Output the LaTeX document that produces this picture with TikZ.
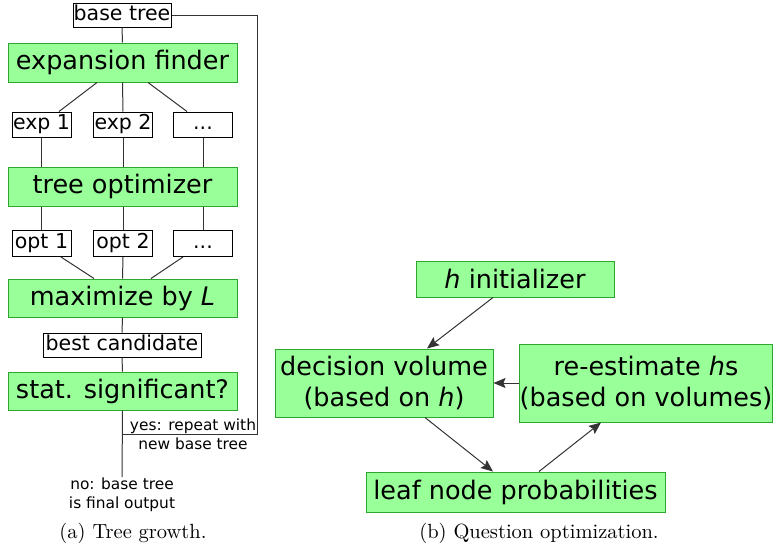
\documentclass[tikz,border=0pt]{standalone}
\usepackage{fontspec}
\usepackage{tikz}
\usetikzlibrary{calc}
\usetikzlibrary{arrows.meta}

\newfontfamily\diafont{DejaVu Sans}
\newfontfamily\capfont[Extension=.otf]{lmroman10-regular}

\definecolor{boxgreen}{HTML}{99FF99}
\definecolor{edgegreen}{HTML}{2EA52E}
\definecolor{linegray}{HTML}{333333}

\tikzset{
    stage/.style={draw=edgegreen, fill=boxgreen, line width=1pt, inner sep=0pt,
        align=center, font=\diafont\fontsize{25.5}{31.5}\selectfont},
    item/.style={draw=black, fill=white, line width=1pt, inner sep=0pt,
        text height=15pt, text depth=4.5pt,
        font=\diafont\fontsize{20.5}{24}\selectfont},
    remark/.style={inner sep=0pt, align=center, font=\diafont\fontsize{15.4}{18.5}\selectfont},
    subcap/.style={inner sep=0pt, font=\capfont\fontsize{20.5}{24}\selectfont},
    link/.style={draw=linegray, line width=1pt},
    flow/.style={link, -{Stealth[length=12pt, width=10pt, inset=2pt]}}
}

\begin{document}
\begin{tikzpicture}[x=1pt, y=-1pt]
    \useasboundingbox (0,0) rectangle (773,550);

    % Draw the tree growth column
    \node[item, minimum width=98pt, minimum height=24pt] (base) at (122,15) {base tree};
    \node[stage, minimum width=229pt, minimum height=39pt] (finder) at (122.5,62.5) {expansion finder};
    \node[stage, minimum width=229pt, minimum height=39pt] (optimizer) at (122.5,186.5) {tree optimizer};
    \node[stage, minimum width=229pt, minimum height=38pt] (maxL) at (122.5,298) {maximize by {\itshape L}};
    \node[item, minimum width=158pt, minimum height=24pt] (best) at (122,345) {best candidate};
    \node[stage, minimum width=229pt, minimum height=38pt] (signif) at (122.5,391) {stat. significant?};

    % Draw the expansions and the optimized trees
    \foreach \i/\x in {1/41.5, 2/123}
    {
        \node[item, minimum width=59pt, minimum height=25pt] (exp\i) at (\x,124.5) {exp \i};
        \node[item, minimum width=59pt, minimum height=26pt] (opt\i) at (\x,243.5) {opt \i};
    }
    \node[item, minimum width=59pt, minimum height=25pt] (exp3) at (203,124.5) {...};
    \node[item, minimum width=59pt, minimum height=26pt] (opt3) at (203,243.5) {...};

    % Connect the column
    \draw[link] (base.south) -- (finder.north);
    \draw[link] ($(finder.south)+(-25.5,0)$) -- ($(exp1.north)+(17.5,0)$);
    \draw[link] (finder.south) -- (exp2.north);
    \draw[link] ($(finder.south)+(25.5,0)$) -- ($(exp3.north)+(-16,0)$);
    \foreach \i in {1,2,3}
    {
        \draw[link] (exp\i.south) -- (exp\i.south |- optimizer.north);
        \draw[link] (optimizer.south -| opt\i.north) -- (opt\i.north);
    }
    \draw[link] ($(opt1.south)+(19.5,0)$) -- ($(maxL.north)+(-28.5,0)$);
    \draw[link] (opt2.south) -- (maxL.north);
    \draw[link] ($(opt3.south)+(-20,0)$) -- ($(maxL.north)+(28.5,0)$);
    \draw[link] (maxL.south) -- (best.north);
    \draw[link] (best.south) -- (signif.north);

    % Draw the two outcomes of the test
    \coordinate (no) at (122,477);
    \coordinate (turn) at (257,434);
    \draw[link] (signif.south) -- (no);
    \draw[link] (signif.south |- turn) -- (turn) |- (base.east);
    \node[remark] (yes) at (193,434) {yes: repeat with\\new base tree};
    \node[remark, anchor=north] (final) at ($(no)+(0,1)$) {no: base tree\\is final output};

    % Draw the question optimization loop
    \node[stage, minimum width=198pt, minimum height=36pt] (hinit) at (515,279) {{\itshape h} initializer};
    \node[stage, minimum width=218pt, minimum height=68pt] (volume) at (384,383) {decision volume\\(based on {\itshape h})};
    \node[stage, minimum width=252pt, minimum height=78pt] (reest) at (646,383) {re-estimate {\itshape h}s\\(based on volumes)};
    \node[stage, minimum width=299pt, minimum height=40pt] (leaf) at (515.5,492) {leaf node probabilities};

    \draw[flow] ($(hinit.south)+(-22,0)$) -- ($(volume.north)+(43,0)$);
    \draw[flow] ($(volume.south)+(41,0)$) -- ($(leaf.north)+(-22.5,0)$);
    \draw[flow] ($(leaf.north)+(23.5,0)$) -- ($(reest.south)+(-45,0)$);
    \draw[flow] (reest.west) -- (volume.east);

    % Finally the captions
    \node[subcap] (capa) at (133,533) {(a) Tree growth.};
    \node[subcap] (capb) at (539,533) {(b) Question optimization.};
\end{tikzpicture}
\end{document}
